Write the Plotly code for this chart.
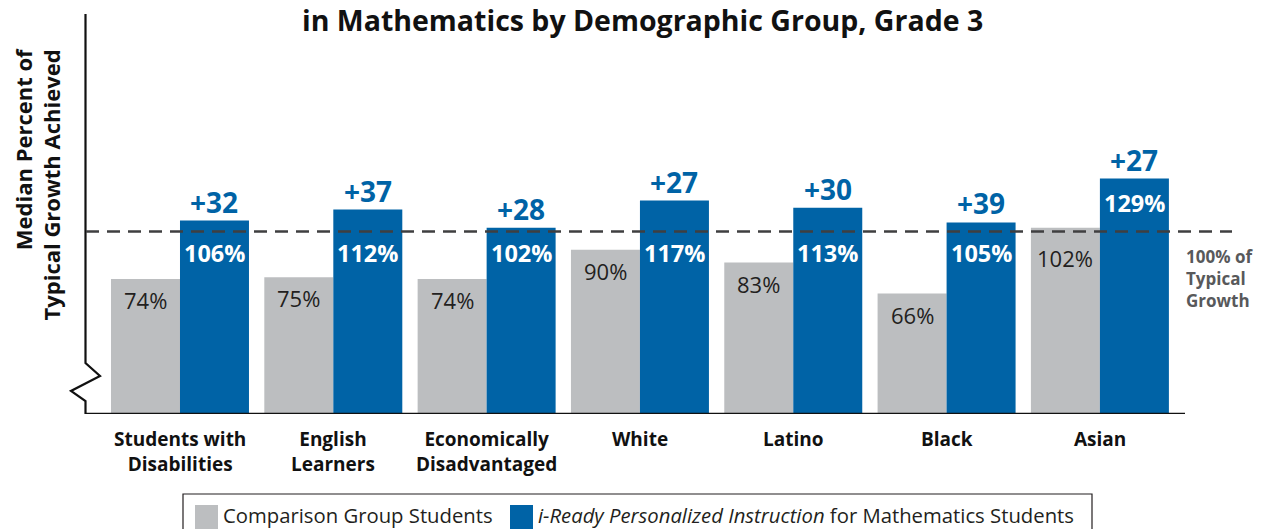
import plotly.graph_objects as go

# ---- data ----
categories = ["Students with<br>Disabilities", "English<br>Learners", "Economically<br>Disadvantaged",
              "White", "Latino", "Black", "Asian"]
comparison = [74, 75, 74, 90, 83, 66, 102]
iready = [106, 112, 102, 117, 113, 105, 129]
typical_growth = 100

GREY = "#BCBEC0"
BLUE = "#0063A6"
FONT = "Open Sans"

# plot-area geometry (pixels) used to convert to paper coordinates
L, R, T, B = 86, 1185, 14, 414
W, H = R - L, B - T
Y_MAX = 219.2


def px_x(px):
    return (px - L) / W


def px_y(py):
    return (B - py) / H


fig = go.Figure()
fig.add_trace(go.Bar(x=categories, y=comparison, name="Comparison Group Students",
                     marker=dict(color=GREY, line=dict(width=0)), offsetgroup="a"))
fig.add_trace(go.Bar(x=categories, y=iready,
                     name="<i>i-Ready Personalized Instruction</i> for Mathematics Students",
                     marker=dict(color=BLUE, line=dict(width=0)), offsetgroup="b"))

annotations = []
half = 34.5  # half bar width in px
for cat, c, v in zip(categories, comparison, iready):
    # comparison value inside grey bar
    if c > typical_growth:
        gy, gs = typical_growth, -26
    else:
        gy, gs = c, -21
    annotations.append(dict(x=cat, y=gy, xshift=-half, yshift=gs,
                            text=f"{c}%", showarrow=False, yanchor="middle",
                            font=dict(family=FONT, size=22, color="#231F20")))
    # i-Ready value inside blue bar
    if v >= 120:
        ly, ys = v, -24
    else:
        ly, ys = typical_growth, -21
    annotations.append(dict(x=cat, y=ly, xshift=half, yshift=ys,
                            text=f"<b>{v}%</b>", showarrow=False, yanchor="middle",
                            font=dict(family=FONT, size=23.5, color="white")))
    # difference above blue bar
    annotations.append(dict(x=cat, y=v, xshift=half, yshift=19,
                            text=f"<b>+{v - c}</b>", showarrow=False, yanchor="middle",
                            font=dict(family=FONT, size=28, color=BLUE)))
    # category label
    annotations.append(dict(x=cat, y=px_y(424), yref="paper", yanchor="top",
                            text=f"<b>{cat}</b>", showarrow=False,
                            font=dict(family=FONT, size=19, color="#111111")))

# title line
annotations.append(dict(x=px_x(642), y=px_y(0), xref="paper", yref="paper",
                        text="<b>in Mathematics by Demographic Group, Grade 3</b>",
                        showarrow=False, yanchor="top", borderpad=0,
                        font=dict(family=FONT, size=28.5, color="#111111")))
# y-axis title
annotations.append(dict(x=px_x(37), y=px_y(46), xref="paper", yref="paper",
                        text="<b>Median Percent of<br>Typical Growth Achieved</b>",
                        textangle=-90, showarrow=False, xanchor="center", yanchor="top",
                        align="right",
                        font=dict(family=FONT, size=22, color="#111111")))
# reference line label
annotations.append(dict(x=px_x(1184), y=px_y(243), xref="paper", yref="paper",
                        xanchor="left", yanchor="top", align="left",
                        text="<b>100% of<br>Typical<br>Growth</b>", showarrow=False,
                        font=dict(family=FONT, size=17, color="#58595B")))

# legend
legend_items = [
    (195, 218, GREY, 222, "Comparison Group Students"),
    (510, 533, BLUE, 537, "<i>i-Ready Personalized Instruction</i> for Mathematics Students"),
]
shapes = [
    dict(type="rect", xref="paper", yref="paper", x0=px_x(183), x1=px_x(1092),
         y0=px_y(545), y1=px_y(494), line=dict(color="#231F20", width=1.2), fillcolor="white",
         layer="below"),
]
for x0, x1, col, tx, label in legend_items:
    shapes.append(dict(type="rect", xref="paper", yref="paper", x0=px_x(x0), x1=px_x(x1),
                       y0=px_y(532), y1=px_y(505), line=dict(width=0), fillcolor=col))
    annotations.append(dict(x=px_x(tx), y=px_y(515), xref="paper", yref="paper",
                            xanchor="left", yanchor="middle", borderpad=0,
                            text=label, showarrow=False,
                            font=dict(family=FONT, size=20.3, color="#231F20")))

# y axis with a break symbol
shapes.append(dict(type="path", xref="paper", yref="paper",
                   path=(f"M {px_x(85.5)} {px_y(14)} L {px_x(85.5)} {px_y(363)} "
                         f"L {px_x(100)} {px_y(376)} L {px_x(71)} {px_y(391)} "
                         f"L {px_x(85.5)} {px_y(401)} L {px_x(85.5)} {px_y(414)}"),
                   line=dict(color="#111111", width=2.2)))
# baseline
shapes.append(dict(type="line", xref="paper", yref="y", x0=px_x(85), x1=px_x(1185),
                   y0=0, y1=0, line=dict(color="#111111", width=2.6)))
# 100% typical growth reference line
shapes.append(dict(type="line", xref="paper", yref="y", x0=0, x1=px_x(1232),
                   y0=typical_growth, y1=typical_growth, layer="above",
                   line=dict(color="#3F3F40", width=2.4, dash="13px,8px")))

fig.update_layout(
    width=1268, height=529,
    margin=dict(l=L, r=1268 - R, t=T, b=529 - B, pad=0),
    plot_bgcolor="white", paper_bgcolor="white",
    barmode="group", bargap=0.1, bargroupgap=0,
    showlegend=False,
    annotations=annotations, shapes=shapes,
    xaxis=dict(range=[-0.613, 6.555], showticklabels=False, showgrid=False,
               zeroline=False, showline=False, ticks=""),
    yaxis=dict(range=[0, Y_MAX], showticklabels=False, showgrid=False,
               zeroline=False, showline=False, ticks=""),
)

fig.write_html("out.html")
